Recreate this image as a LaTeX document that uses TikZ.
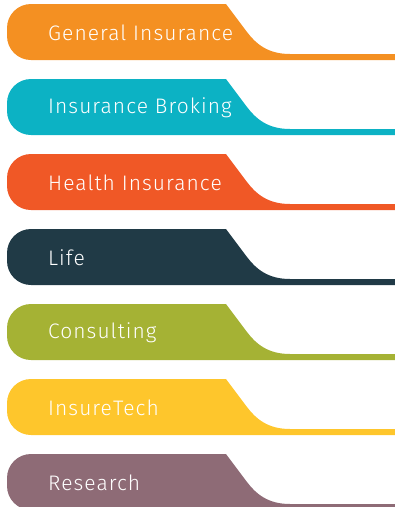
\documentclass[tikz,border=0pt]{standalone}
\usepackage{fontspec}
\setmainfont{Fira Sans Light}[LetterSpace=5]
\definecolor{bandorange}{RGB}{244,144,34}
\definecolor{bandteal}{RGB}{12,178,196}
\definecolor{bandred}{RGB}{240,88,38}
\definecolor{bandnavy}{RGB}{32,58,70}
\definecolor{bandolive}{RGB}{165,178,52}
\definecolor{bandyellow}{RGB}{254,198,44}
\definecolor{bandmauve}{RGB}{142,107,118}
\tikzstyle{bandlabel}=[anchor=west,text=white,inner sep=0pt,font=\fontsize{21}{24}\selectfont]

\begin{document}
\begin{tikzpicture}[x=1pt,y=1pt]
  \useasboundingbox (0,0) rectangle (395,-507);
  \foreach \col/\txt [count=\i] in {bandorange/General Insurance,bandteal/Insurance Broking,bandred/Health Insurance,bandnavy/Life,bandolive/Consulting,bandyellow/InsureTech,bandmauve/Research}{
    \pgfmathsetmacro{\top}{-4-75*(\i-1)}
    % tab with its tail
    \fill[\col] (395,\top-50) -- (290,\top-50)
      .. controls (268,\top-50) and (256,\top-40) .. (247,\top-28)
      -- (226,\top) [rounded corners=24] -- (7,\top) -- (7,\top-56) [sharp corners] -- (395,\top-56) -- cycle;
    \node[bandlabel] (label\i) at (48,\top-29) {\txt};
  }
\end{tikzpicture}
\end{document}
